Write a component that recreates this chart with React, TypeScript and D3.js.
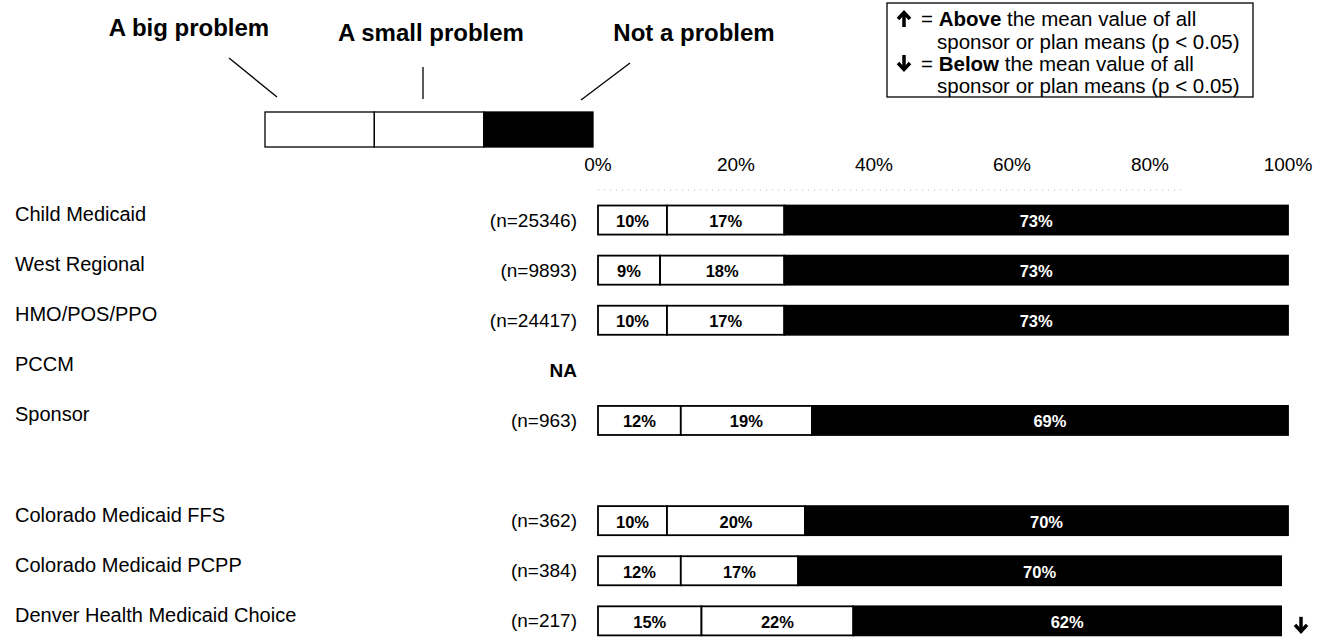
import React from 'react';
import { scaleLinear, scaleBand, stack } from 'd3';

// rows of the chart; '' is the blank spacer row between the two groups
const categories = [
  'Child Medicaid',
  'West Regional',
  'HMO/POS/PPO',
  'PCCM',
  'Sponsor',
  '',
  'Colorado Medicaid FFS',
  'Colorado Medicaid PCPP',
  'Denver Health Medicaid Choice',
];
const sampleSizes = [25346, 9893, 24417, null, 963, null, 362, 384, 217];
const bigProblem = [10, 9, 10, null, 12, null, 10, 12, 15];
const smallProblem = [17, 18, 17, null, 19, null, 20, 17, 22];
const notProblem = [73, 73, 73, null, 69, null, 70, 70, 62];
// significance vs mean of all sponsor/plan means
const significance = [null, null, null, null, null, null, null, null, 'below'];

const responseKeys = ['big', 'small', 'not'];
const responseLabels = ['A big problem', 'A small problem', 'Not a problem'];
const responseFills = ['#fff', '#fff', '#000'];
const tickValues = [0, 20, 40, 60, 80, 100];

const FONT = '"Liberation Sans", Arial, Helvetica, sans-serif';
const W = 1328;
const H = 644;

const Arrow = ({ cx, cy, dir }: { cx: number; cy: number; dir: 'up' | 'down' }) => {
  const s = dir === 'down' ? 1 : -1;
  return (
    <g stroke="#000" strokeWidth={3.5} fill="none">
      <line x1={cx} y1={cy - 8 * s} x2={cx} y2={cy + 6 * s} />
      <polyline points={`${cx - 6},${cy} ${cx},${cy + 6.5 * s} ${cx + 6},${cy}`} />
    </g>
  );
};

export default function App() {
  const rows = categories.map((c, i) => ({
    idx: i,
    category: c,
    n: sampleSizes[i],
    big: bigProblem[i] ?? 0,
    small: smallProblem[i] ?? 0,
    not: notProblem[i] ?? 0,
    sig: significance[i],
  }));

  const x = scaleLinear().domain([0, 100]).range([598, 1288]);
  const y = scaleBand<number>()
    .domain(rows.map(r => r.idx))
    .range([195.5, 645.4])
    .paddingInner(0.42)
    .paddingOuter(0.2);
  const bh = y.bandwidth();

  const series = stack<any>().keys(responseKeys)(rows);

  // mini legend bar
  const lx = scaleBand<string>().domain(responseKeys).range([265, 593]);
  const legendLabelX = [189, 431, 694];
  const legendLabelY = [36, 41, 41];
  const leaders = [
    [229, 58, 277, 97],
    [423, 67, 423, 99],
    [630, 63, 581, 100],
  ];

  return (
    <svg width={W} height={H} style={{ display: 'block', position: 'absolute', left: 0, top: 0, background: '#fff' }} fontFamily={FONT}>
      <rect width={W} height={H} fill="#fff" />

      {/* response legend */}
      {responseKeys.map((k, i) => (
        <g key={k}>
          <text x={legendLabelX[i]} y={legendLabelY[i]} textAnchor="middle" fontWeight="bold" fontSize={24}>
            {responseLabels[i]}
          </text>
          <line x1={leaders[i][0]} y1={leaders[i][1]} x2={leaders[i][2]} y2={leaders[i][3]} stroke="#000" strokeWidth={1.3} />
          <rect x={lx(k)} y={112} width={lx.bandwidth()} height={35} fill={responseFills[i]} stroke="#000" strokeWidth={1.3} />
        </g>
      ))}

      {/* significance legend */}
      <rect x={887} y={3} width={366} height={94} fill="#fff" stroke="#000" strokeWidth={1.3} />
      <Arrow cx={904} cy={19} dir="up" />
      <Arrow cx={904} cy={63} dir="down" />
      <g fontSize={20.5} fill="#000">
        <text x={921} y={26}>= <tspan fontWeight="bold">Above</tspan> the mean value of all</text>
        <text x={937} y={49}>sponsor or plan means (p &lt; 0.05)</text>
        <text x={921} y={71}>= <tspan fontWeight="bold">Below</tspan> the mean value of all</text>
        <text x={937} y={93}>sponsor or plan means (p &lt; 0.05)</text>
      </g>

      {/* axis */}
      <g fontSize={19}>
        {tickValues.map(t => (
          <text key={t} x={x(t)} y={171} textAnchor="middle">{t}%</text>
        ))}
      </g>
      <line x1={x(0)} x2={x(85)} y1={190} y2={190} stroke="#bbb" strokeWidth={1} strokeDasharray="1 5" />

      {/* row labels */}
      {rows.map(r => {
        const cy = (y(r.idx) ?? 0) + bh / 2;
        if (!r.category) return null;
        return (
          <g key={r.idx}>
            <text x={15} y={cy - 6} fontSize={20} dominantBaseline="central">{r.category}</text>
            {r.n != null ? (
              <text x={577} y={cy} fontSize={19} textAnchor="end" dominantBaseline="central">(n={r.n})</text>
            ) : (
              <text x={577} y={cy} fontSize={19} textAnchor="end" fontWeight="bold" dominantBaseline="central">NA</text>
            )}
          </g>
        );
      })}

      {/* stacked bars */}
      {series.map((s, si) => (
        <g key={s.key}>
          {s.map((d, i) => {
            const r = rows[i];
            if (r.n == null) return null;
            const x0 = x(d[0]);
            const x1 = x(d[1]);
            const yy = y(r.idx) ?? 0;
            const v = d[1] - d[0];
            return (
              <g key={i}>
                <rect x={x0} y={yy} width={x1 - x0} height={bh} fill={responseFills[si]} stroke="#000" strokeWidth={1.8} />
                <text
                  x={(x0 + x1) / 2}
                  y={yy + bh / 2 + 1}
                  textAnchor="middle"
                  dominantBaseline="central"
                  fontWeight="bold"
                  fontSize={16.5}
                  fill={si === 2 ? '#fff' : '#000'}
                >
                  {v}%
                </text>
              </g>
            );
          })}
        </g>
      ))}

      {/* significance markers */}
      {rows.filter(r => r.sig).map(r => (
        <Arrow key={r.idx} cx={x(100) + 13} cy={(y(r.idx) ?? 0) + bh / 2 + 4} dir={r.sig === 'below' ? 'down' : 'up'} />
      ))}
    </svg>
  );
}
